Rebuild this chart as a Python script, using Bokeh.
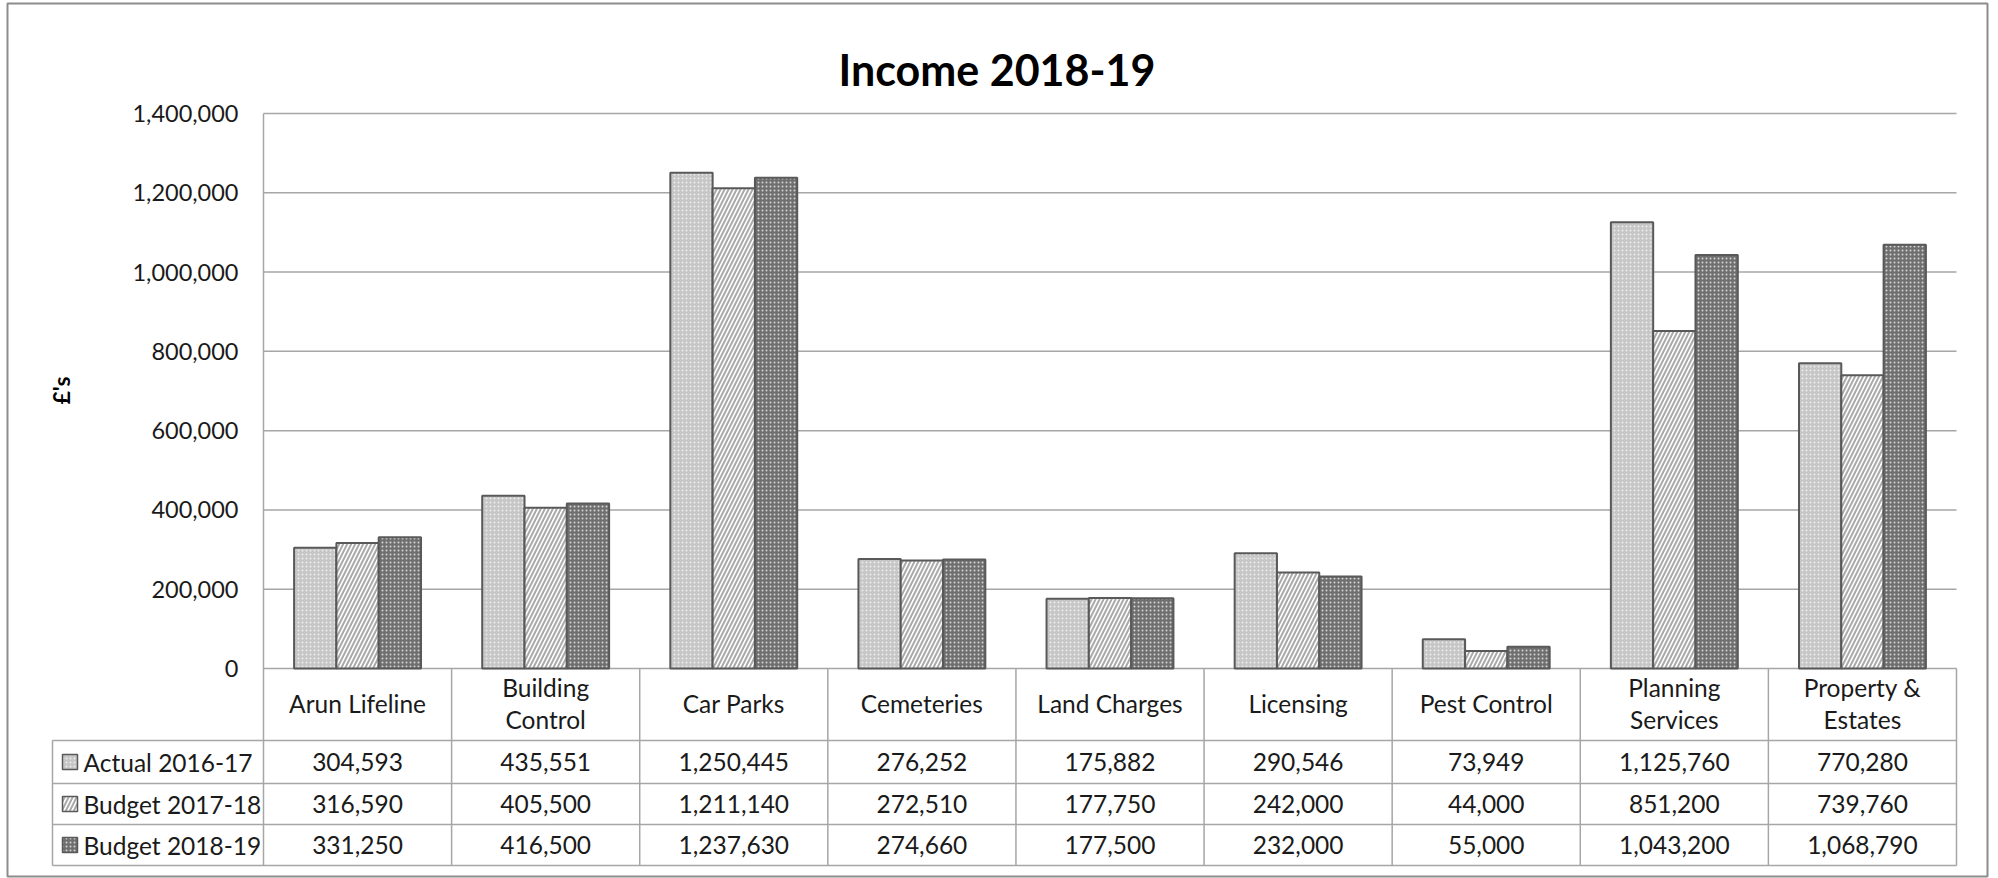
import math
from bokeh.plotting import figure
from bokeh.models import Range1d, ColumnDataSource
from bokeh.core.properties import value
from bokeh.embed import file_html
from bokeh.resources import INLINE

# ---------------- data ----------------
title = "Income 2018-19"
y_label = "£'s"
categories = ["Arun Lifeline", "Building Control", "Car Parks", "Cemeteries",
              "Land Charges", "Licensing", "Pest Control", "Planning Services",
              "Property & Estates"]
category_labels = ["Arun Lifeline", "Building\nControl", "Car Parks", "Cemeteries",
                   "Land Charges", "Licensing", "Pest Control", "Planning\nServices",
                   "Property &\nEstates"]
series_names = ["Actual 2016-17", "Budget 2017-18", "Budget 2018-19"]
actual_2016_17 = [304593, 435551, 1250445, 276252, 175882, 290546, 73949, 1125760, 770280]
budget_2017_18 = [316590, 405500, 1211140, 272510, 177750, 242000, 44000, 851200, 739760]
budget_2018_19 = [331250, 416500, 1237630, 274660, 177500, 232000, 55000, 1043200, 1068790]
y_ticks = [0, 200000, 400000, 600000, 800000, 1000000, 1200000, 1400000]
y_tick_labels = ["0", "200,000", "400,000", "600,000", "800,000", "1,000,000",
                 "1,200,000", "1,400,000"]

series_values = [actual_2016_17, budget_2017_18, budget_2018_19]

# ---------------- layout (pixels) ----------------
W, H = 1998, 878
PL, PR = 263.0, 1956.0          # plot area left / right
Y0, YTOP = 668.0, 113.0          # zero line / top gridline
YMAX = y_ticks[-1]
NC = len(categories)
CW = (PR - PL) / NC
K = YMAX / (Y0 - YTOP)

def X(px):
    return (px - PL) / CW - 0.5

def Y(py):
    return (Y0 - py) * K

FONT = value("Lato")
TXT = "#1a1a1a"
GRID = "#a6a6a6"
BAR_LINE = "#595959"
FS = "24.5px"

p = figure(width=W, height=H, x_range=Range1d(X(0), X(W)), y_range=Range1d(Y(H), Y(0)),
           x_axis_type=None, y_axis_type=None, toolbar_location=None,
           output_backend="svg", min_border=0)
p.outline_line_color = None
p.background_fill_color = "white"
p.border_fill_color = "white"

# outer border
p.quad(left=[X(7)], right=[X(1987)], top=[Y(3)], bottom=[Y(876)],
       fill_color=None, line_color="#8c8c8c", line_width=2)

# gridlines
p.segment(x0=[X(PL)] * len(y_ticks), x1=[X(PR)] * len(y_ticks), y0=y_ticks, y1=y_ticks,
          line_color=GRID, line_width=1.5)

# table geometry
row_lines = [740.0, 783.0, 824.0, 865.0]
TL = 52.0
# vertical axis line through to table bottom
p.segment(x0=[X(PL)], x1=[X(PL)], y0=[Y(YTOP)], y1=[Y(row_lines[-1])],
          line_color=GRID, line_width=1.5)
# category column separators
bx = [i + 0.5 for i in range(NC)]
p.segment(x0=bx, x1=bx, y0=[0] * NC, y1=[Y(row_lines[-1])] * NC,
          line_color=GRID, line_width=1.5)
# horizontal table lines
p.segment(x0=[X(TL)] * 4, x1=[X(PR)] * 4, y0=[Y(r) for r in row_lines],
          y1=[Y(r) for r in row_lines], line_color=GRID, line_width=1.5)
p.segment(x0=[X(TL)], x1=[X(TL)], y0=[Y(row_lines[0])], y1=[Y(row_lines[-1])],
          line_color=GRID, line_width=1.5)

# bar styles
styles = [
    dict(fill_color="#c6c6c6", hatch_pattern="dot", hatch_color="#ececec",
         hatch_scale=4, hatch_weight=1.2),
    dict(fill_color="white", hatch_pattern="right_diagonal_line", hatch_color="#aaaaaa",
         hatch_scale=8, hatch_weight=2),
    dict(fill_color="#6f6f6f", hatch_pattern="dot", hatch_color="#d4d4d4",
         hatch_scale=4, hatch_weight=1.4),
]

BW = 42.3 / CW
offsets = [-BW, 0.0, BW]
for s in range(3):
    src = ColumnDataSource(dict(x=[i + offsets[s] for i in range(NC)],
                                top=series_values[s]))
    p.vbar(x="x", top="top", bottom=0, width=BW, source=src,
           line_color=BAR_LINE, line_width=2, **styles[s])

# y tick labels
p.text(x=[X(238)] * len(y_ticks), y=y_ticks, text=y_tick_labels,
       text_font=FONT, text_font_size="23.5px", text_color=TXT,
       text_align="right", text_baseline="middle")

# y axis label
p.text(x=[X(60)], y=[Y(390)], text=[y_label], angle=math.pi / 2,
       text_font=FONT, text_font_size="23px", text_font_style="bold",
       text_color="black", text_align="center", text_baseline="middle")

# title
p.text(x=[X(996.5)], y=[Y(69)], text=[title], text_font=FONT, text_font_size="43px",
       text_font_style="bold", text_color="black", text_align="center",
       text_baseline="alphabetic")

# category header
p.text(x=list(range(NC)), y=[Y(703)] * NC, text=category_labels,
       text_font=FONT, text_font_size=FS, text_color=TXT,
       text_align="center", text_baseline="middle", text_line_height=1.1)

# data rows
row_centers = [(row_lines[i] + row_lines[i + 1]) / 2 for i in range(3)]
for s in range(3):
    yc = Y(row_centers[s])
    p.text(x=list(range(NC)), y=[yc] * NC, text=[f"{v:,}" for v in series_values[s]],
           text_font=FONT, text_font_size=FS, text_color=TXT,
           text_align="center", text_baseline="middle")
    # legend key
    p.rect(x=[X(69.5)], y=[yc], width=15, height=15, width_units="screen",
           height_units="screen", line_color=BAR_LINE, line_width=1.5, **styles[s])
    p.text(x=[X(83)], y=[yc], text=[series_names[s]], text_font=FONT,
           text_font_size=FS, text_color=TXT, text_align="left",
           text_baseline="middle")

open("out.html", "w").write(file_html(p, INLINE))
